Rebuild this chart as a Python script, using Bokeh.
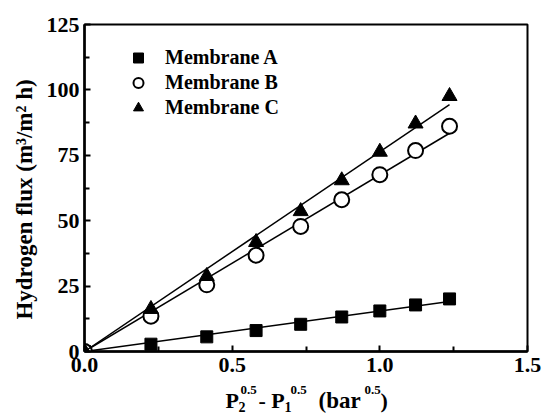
import numpy as np
from math import pi
from bokeh.plotting import figure
from bokeh.layouts import row, column
from bokeh.models import (ColumnDataSource, FixedTicker, Legend, LegendItem,
                          Range1d, CustomJSTickFormatter)
from bokeh.core.properties import value
from bokeh.embed import file_html
from bokeh.resources import INLINE

# ---- data ----
x_vals = [0.0, 0.225, 0.414, 0.581, 0.732, 0.871, 1.0, 1.121, 1.236]
flux_a = [0.0, 2.8, 5.6, 8.0, 10.4, 13.2, 15.5, 17.8, 20.1]
flux_b = [0.0, 13.5, 25.5, 36.8, 47.8, 58.0, 67.6, 76.8, 86.1]
flux_c = [0.0, 16.2, 28.8, 41.8, 53.6, 65.4, 76.3, 87.1, 97.6]
series_names = ["Membrane A", "Membrane B", "Membrane C"]

x_major = [0.0, 0.5, 1.0, 1.5]
x_minor = [0.25, 0.75, 1.25]
y_major = [0, 25, 50, 75, 100, 125]
y_minor = [12.5, 37.5, 62.5, 87.5, 112.5]

y_title = "Hydrogen flux (m\u00b3/m\u00b2 h)"
x_title_parts = ["P", "2", "0.5", "- P", "1", "0.5", "(bar", "0.5", ")"]

FONT = "Liberation Serif"

# ---------------- main plot ----------------
p = figure(width=502, height=382, output_backend="svg", toolbar_location=None,
           x_range=Range1d(0, 1.5), y_range=Range1d(0, 125),
           min_border_left=44, min_border_right=15, min_border_top=24,
           min_border_bottom=31, frame_align=False)
p.grid.visible = False
p.outline_line_color = "black"
p.outline_line_width = 2
p.background_fill_color = "white"
p.border_fill_color = "white"

for ax, maj, mnr in ((p.xaxis[0], x_major, x_minor), (p.yaxis[0], y_major, y_minor)):
    ax.ticker = FixedTicker(ticks=maj, minor_ticks=mnr)
    ax.axis_line_width = 2.5
    ax.axis_line_color = "black"
    ax.major_tick_in = 6
    ax.major_tick_out = 0
    ax.minor_tick_in = 5
    ax.minor_tick_out = 0
    ax.major_tick_line_width = 2
    ax.minor_tick_line_width = 2
    ax.major_label_text_font = FONT
    ax.major_label_text_font_style = "bold"
    ax.major_label_text_font_size = "22px"
    ax.major_label_text_color = "black"

p.xaxis[0].formatter = CustomJSTickFormatter(code="return tick.toFixed(1);")
p.xaxis[0].major_label_standoff = 6
p.yaxis[0].major_label_standoff = 5

xs = np.array(x_vals)
styles = [
    dict(marker="square", fill_color="black", line_color="black", size=12, line_width=1),
    dict(marker="circle", fill_color="white", line_color="black", size=15, line_width=2),
    dict(marker="triangle", fill_color="black", line_color="black", size=15, line_width=1),
]
items = []
for name, ys, st in zip(series_names, (flux_a, flux_b, flux_c), styles):
    ys = np.array(ys)
    slope = float(np.sum(xs * ys) / np.sum(xs * xs))
    lx = [0.0, float(xs.max())]
    p.line(lx, [slope * v for v in lx], line_color="black", line_width=1.5)
    src = ColumnDataSource(dict(x=xs, y=ys))
    r = p.scatter("x", "y", source=src, **st)
    items.append(LegendItem(label=name, renderers=[r]))

legend = Legend(items=items, location=(40, 231), padding=0, margin=0,
                glyph_width=28, glyph_height=25, label_height=25, spacing=0,
                label_standoff=13, border_line_alpha=0, background_fill_alpha=0,
                label_text_font=FONT, label_text_font_style="bold",
                label_text_font_size="20px", label_text_color="black")
p.add_layout(legend)

# ---------------- left strip: y title ----------------
left = figure(width=40, height=416, output_backend="svg", toolbar_location=None,
              x_range=Range1d(0, 40), y_range=Range1d(416, 0),
              x_axis_location=None, y_axis_location=None, min_border=0,
              frame_align=False)
left.grid.visible = False
left.outline_line_color = None
left.text(x=[24], y=[199], text=[y_title], angle=pi / 2,
          text_align="center", text_baseline="middle",
          text_font=value(FONT), text_font_style="bold",
          text_font_size="23px", text_color="black")

# ---------------- bottom strip: x title ----------------
bottom = figure(width=502, height=34, output_backend="svg", toolbar_location=None,
                x_range=Range1d(40, 542), y_range=Range1d(416, 382),
                x_axis_location=None, y_axis_location=None, min_border=0,
                frame_align=False)
bottom.grid.visible = False
bottom.outline_line_color = None
part_x = [225, 238, 240, 258, 284, 290, 318, 364, 380]
part_y = [400, 406, 389, 400, 406, 389, 400, 389, 400]
part_size = ["22px", "14px", "13px", "22px", "14px", "13px", "23px", "13px", "22px"]
for t, xx, yy, fs in zip(x_title_parts, part_x, part_y, part_size):
    bottom.text(x=[xx], y=[yy], text=[t], text_align="left",
                text_baseline="alphabetic", text_font=value(FONT),
                text_font_style="bold", text_font_size=fs, text_color="black")

layout = row(left, column(p, bottom, spacing=0), spacing=0)
open("out.html", "w").write(file_html(layout, INLINE))
